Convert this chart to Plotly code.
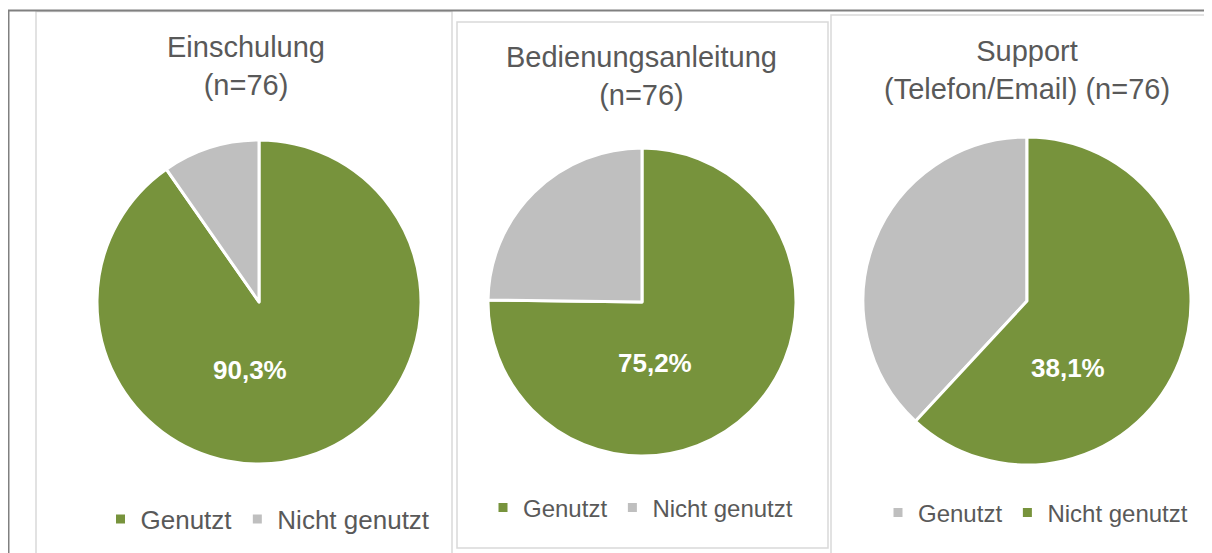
import plotly.graph_objects as go

# page is rendered with an 8px body margin -> work in page pixels and shift
OFF = 8
W, H = 1212 - OFF, 553 - OFF

# ---- data ----
titles = ["Einschulung<br>(n=76)", "Bedienungsanleitung<br>(n=76)", "Support<br>(Telefon/Email) (n=76)"]
labels = ["Genutzt", "Nicht genutzt"]
einschulung = [90.3, 9.7]
bedienung = [75.2, 24.8]
support = [38.1, 61.9]

GREEN = "#77933C"
GRAY = "#BFBFBF"
TXT = "#595959"
FONT = "Liberation Sans, Arial, sans-serif"


def px(x):
    return (x - OFF) / W


def py(y):
    return 1 - (y - OFF) / H


def fmt(v):
    return f"{v:.1f}%".replace(".", ",")


fig = go.Figure()

pies = [
    dict(vals=einschulung, colors=[GREEN, GRAY], rotation=0,
         label=fmt(einschulung[0]), lx=250, ly=370, cx=259, cy=302, r=162, legend="legend"),
    dict(vals=bedienung, colors=[GREEN, GRAY], rotation=0,
         label=fmt(bedienung[0]), lx=655, ly=363, cx=642, cy=302, r=154, legend="legend2"),
    dict(vals=support, colors=[GRAY, GREEN], rotation=360 * support[1] / sum(support),
         label=fmt(support[0]), lx=1068, ly=368, cx=1027, cy=301, r=164, legend="legend3"),
]

annotations = []
for i, p in enumerate(pies):
    # zero-width suffix keeps each pie's legend entries distinct (plotly merges equal pie labels)
    lab = [l + "\u200b" * i for l in labels]
    fig.add_trace(go.Pie(
        labels=lab, values=p["vals"], sort=False, direction="clockwise",
        rotation=p["rotation"],
        marker=dict(colors=p["colors"], line=dict(color="white", width=3)),
        textinfo="none",
        domain=dict(x=[px(p["cx"] - p["r"]), px(p["cx"] + p["r"])],
                    y=[py(p["cy"] + p["r"]), py(p["cy"] - p["r"])]),
        legend=p["legend"], hoverinfo="label+value",
    ))
    annotations.append(dict(text=p["label"], x=px(p["lx"]), y=py(p["ly"]),
                            xref="paper", yref="paper", showarrow=False,
                            xanchor="center", yanchor="middle",
                            font=dict(family=FONT, size=26, color="white", weight="bold")))

shapes = [
    dict(type="rect", x0=px(36), x1=px(452), y0=py(575), y1=py(11.5),
         line=dict(color="#D9D9D9", width=1.5), fillcolor="white", layer="below"),
    dict(type="rect", x0=px(457), x1=px(828), y0=py(548), y1=py(22),
         line=dict(color="#D9D9D9", width=1.5), fillcolor="white", layer="below"),
    dict(type="rect", x0=px(831), x1=px(1230), y0=py(575), y1=py(15),
         line=dict(color="#D9D9D9", width=1.5), fillcolor="white", layer="below"),
    dict(type="path", path=f"M {px(8.5)} -0.05 L {px(8.5)} {py(10.5)} L 1.05 {py(10.5)}",
         line=dict(color="#808080", width=2), layer="above"),
]

title_pos = [(246, 66), (642, 76.5), (1027, 70)]
for t, (x, y) in zip(titles, title_pos):
    annotations.append(dict(text=t, x=px(x), y=py(y), xref="paper", yref="paper",
                            showarrow=False, xanchor="center", yanchor="middle",
                            font=dict(family=FONT, size=29, color=TXT)))

leg_common = dict(orientation="h", xanchor="center", yanchor="middle",
                  bgcolor="rgba(0,0,0,0)", itemwidth=30, traceorder="normal")

fig.update_layout(
    width=W, height=H, margin=dict(l=0, r=0, t=0, b=0),
    paper_bgcolor="white", plot_bgcolor="white",
    shapes=shapes, annotations=annotations,
    legend=dict(x=px(268), y=py(519), font=dict(family=FONT, size=26, color=TXT), **leg_common),
    legend2=dict(x=px(640.5), y=py(508), font=dict(family=FONT, size=24, color=TXT), **leg_common),
    legend3=dict(x=px(1035.5), y=py(513), font=dict(family=FONT, size=24, color=TXT), **leg_common),
    showlegend=True,
)

fig.write_html("out.html")
